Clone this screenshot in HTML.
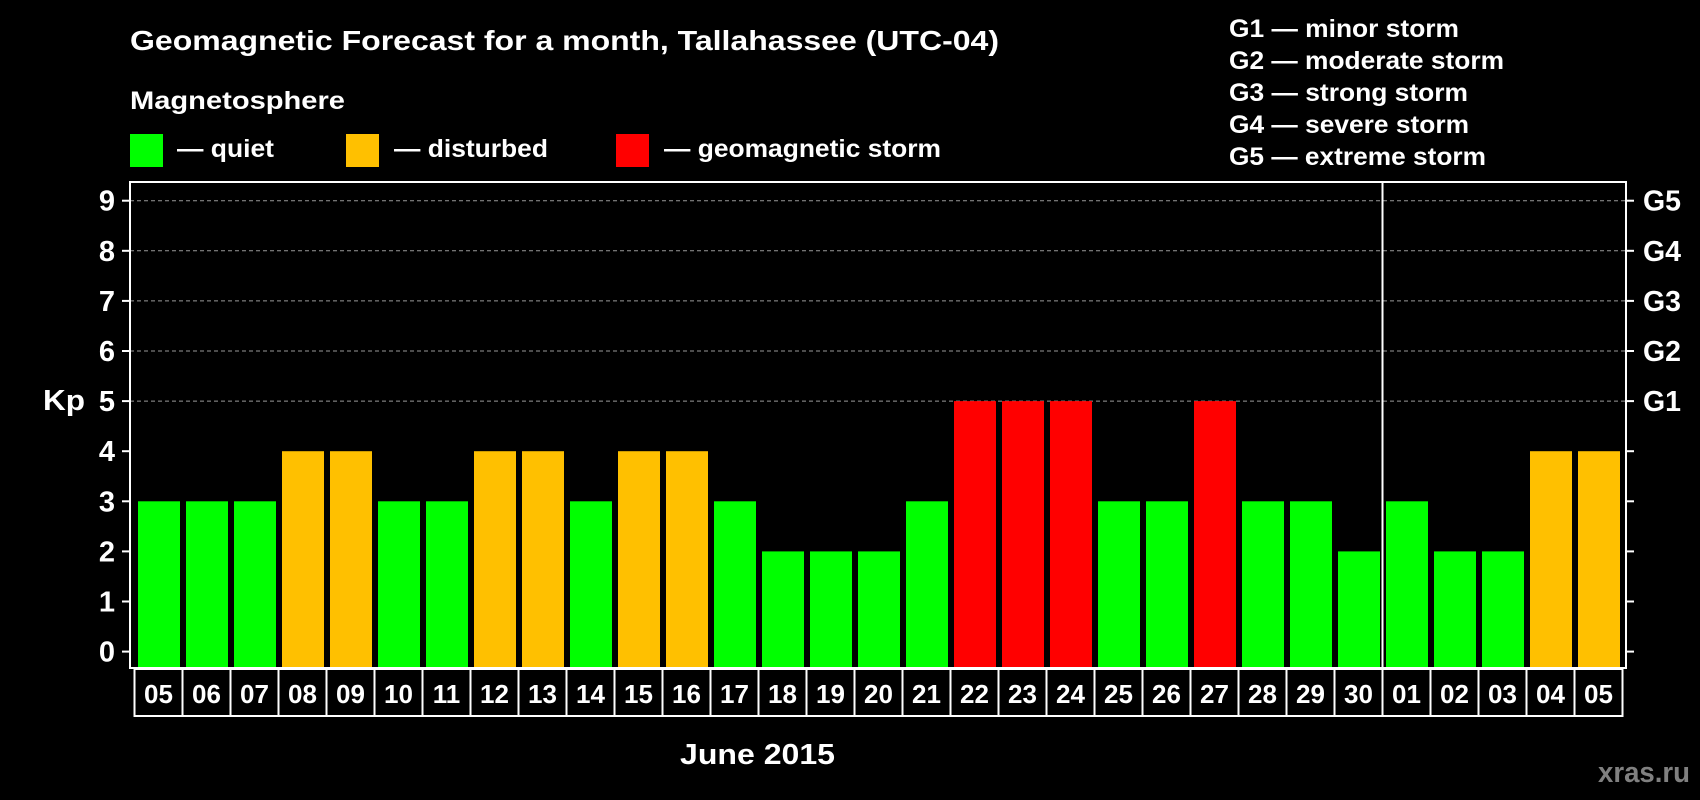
<!DOCTYPE html>
<html><head><meta charset="utf-8"><style>
html,body{margin:0;padding:0;background:#000;width:1700px;height:800px;overflow:hidden}
svg{display:block;font-family:"Liberation Sans",Arial,sans-serif;font-weight:bold}
</style></head><body>
<svg id="chart" width="1700" height="800" viewBox="0 0 1700 800">
<rect width="1700" height="800" fill="#000"/>
<text x="130" y="50" fill="#fff" font-size="28" textLength="869" lengthAdjust="spacingAndGlyphs">Geomagnetic Forecast for a month, Tallahassee (UTC-04)</text>
<text x="130" y="109" fill="#fff" font-size="25" textLength="215" lengthAdjust="spacingAndGlyphs">Magnetosphere</text>
<g><rect x="130" y="134" width="33" height="33" fill="#00ff00"/><text x="177" y="157" fill="#fff" font-size="25" textLength="97" lengthAdjust="spacingAndGlyphs">— quiet</text></g>
<g><rect x="346" y="134" width="33" height="33" fill="#ffc000"/><text x="394" y="157" fill="#fff" font-size="25" textLength="154" lengthAdjust="spacingAndGlyphs">— disturbed</text></g>
<g><rect x="616" y="134" width="33" height="33" fill="#ff0000"/><text x="664" y="157" fill="#fff" font-size="25" textLength="277" lengthAdjust="spacingAndGlyphs">— geomagnetic storm</text></g>
<g fill="#fff" font-size="25">
<text x="1229" y="37" textLength="230" lengthAdjust="spacingAndGlyphs">G1 — minor storm</text>
<text x="1229" y="69" textLength="275" lengthAdjust="spacingAndGlyphs">G2 — moderate storm</text>
<text x="1229" y="101" textLength="239" lengthAdjust="spacingAndGlyphs">G3 — strong storm</text>
<text x="1229" y="133" textLength="240" lengthAdjust="spacingAndGlyphs">G4 — severe storm</text>
<text x="1229" y="165" textLength="257" lengthAdjust="spacingAndGlyphs">G5 — extreme storm</text>
</g>
<text x="43" y="410" fill="#fff" font-size="29" textLength="42" lengthAdjust="spacingAndGlyphs">Kp</text>
<text x="680" y="764" fill="#fff" font-size="29" textLength="155" lengthAdjust="spacingAndGlyphs">June 2015</text>
<text x="1598" y="782" fill="#808080" font-size="29" textLength="92" lengthAdjust="spacingAndGlyphs">xras.ru</text>
<g id="grid"></g><g id="bars"></g><g id="axes"></g>
</svg>
<script>
const days=["05","06","07","08","09","10","11","12","13","14","15","16","17","18","19","20","21","22","23","24","25","26","27","28","29","30","01","02","03","04","05"];
const kp=[3,3,3,4,4,3,3,4,4,3,4,4,3,2,2,2,3,5,5,5,3,3,5,3,3,2,3,2,2,4,4];
const yTicks=[0,1,2,3,4,5,6,7,8,9];
const gLabels=["G1","G2","G3","G4","G5"];
const gLevels=[5,6,7,8,9];
const NS="http://www.w3.org/2000/svg";
const L=130,R=1626,T=182,B=668,pitch=48,x0=134.5,bw=42;
function y(v){return 651.6-v*50.1;}
function x(i){return x0+i*pitch;}
function mk(t,a,p){const e=document.createElementNS(NS,t);for(const k in a)e.setAttribute(k,a[k]);p.appendChild(e);return e;}
const grid=document.getElementById('grid'),bars=document.getElementById('bars'),axes=document.getElementById('axes');
yTicks.forEach(v=>{
 if(v>=5){const g=mk('line',{x1:L,x2:R,y1:y(v),y2:y(v),stroke:'#999','stroke-dasharray':'4,3','stroke-width':1},grid);
 
 }
 const t=mk('line',{x1:L-8,x2:L,y1:y(v),y2:y(v),stroke:'#fff','stroke-width':2},axes);
 
 
 mk('line',{x1:R,x2:R+8,y1:y(v),y2:y(v),stroke:'#fff','stroke-width':2},axes);
 const l=mk('text',{x:115,y:y(v)+10,fill:'#fff','font-size':29,'text-anchor':'end'},axes);l.textContent=v;
 
 
});
gLabels.forEach((g,i)=>{const t=mk('text',{x:1643,y:y(gLevels[i])+10,fill:'#fff','font-size':29,textLength:38,lengthAdjust:'spacingAndGlyphs'},axes);t.textContent=g;
 
 });
kp.forEach((v,i)=>{
 const c=v>=5?'#ff0000':(v>=4?'#ffc000':'#00ff00');
 const r=mk('rect',{x:x(i)+3.5,y:y(v),width:bw,height:B-1-y(v),fill:c},bars);
 
 
 const cell=mk('rect',{x:x(i),y:669,width:pitch,height:47,fill:'none',stroke:'#fff','stroke-width':2},axes);
 
 
 const t=mk('text',{x:x(i)+pitch/2,y:703,fill:'#fff','font-size':26,'text-anchor':'middle'},axes);t.textContent=days[i];
 
 
});
const fr=mk('rect',{x:L,y:T,width:R-L,height:B-T,fill:'none',stroke:'#fff','stroke-width':2},axes);


const dv=mk('line',{x1:x(26),x2:x(26),y1:T,y2:B,stroke:'#fff','stroke-width':2},axes);


</script>
</body></html>
